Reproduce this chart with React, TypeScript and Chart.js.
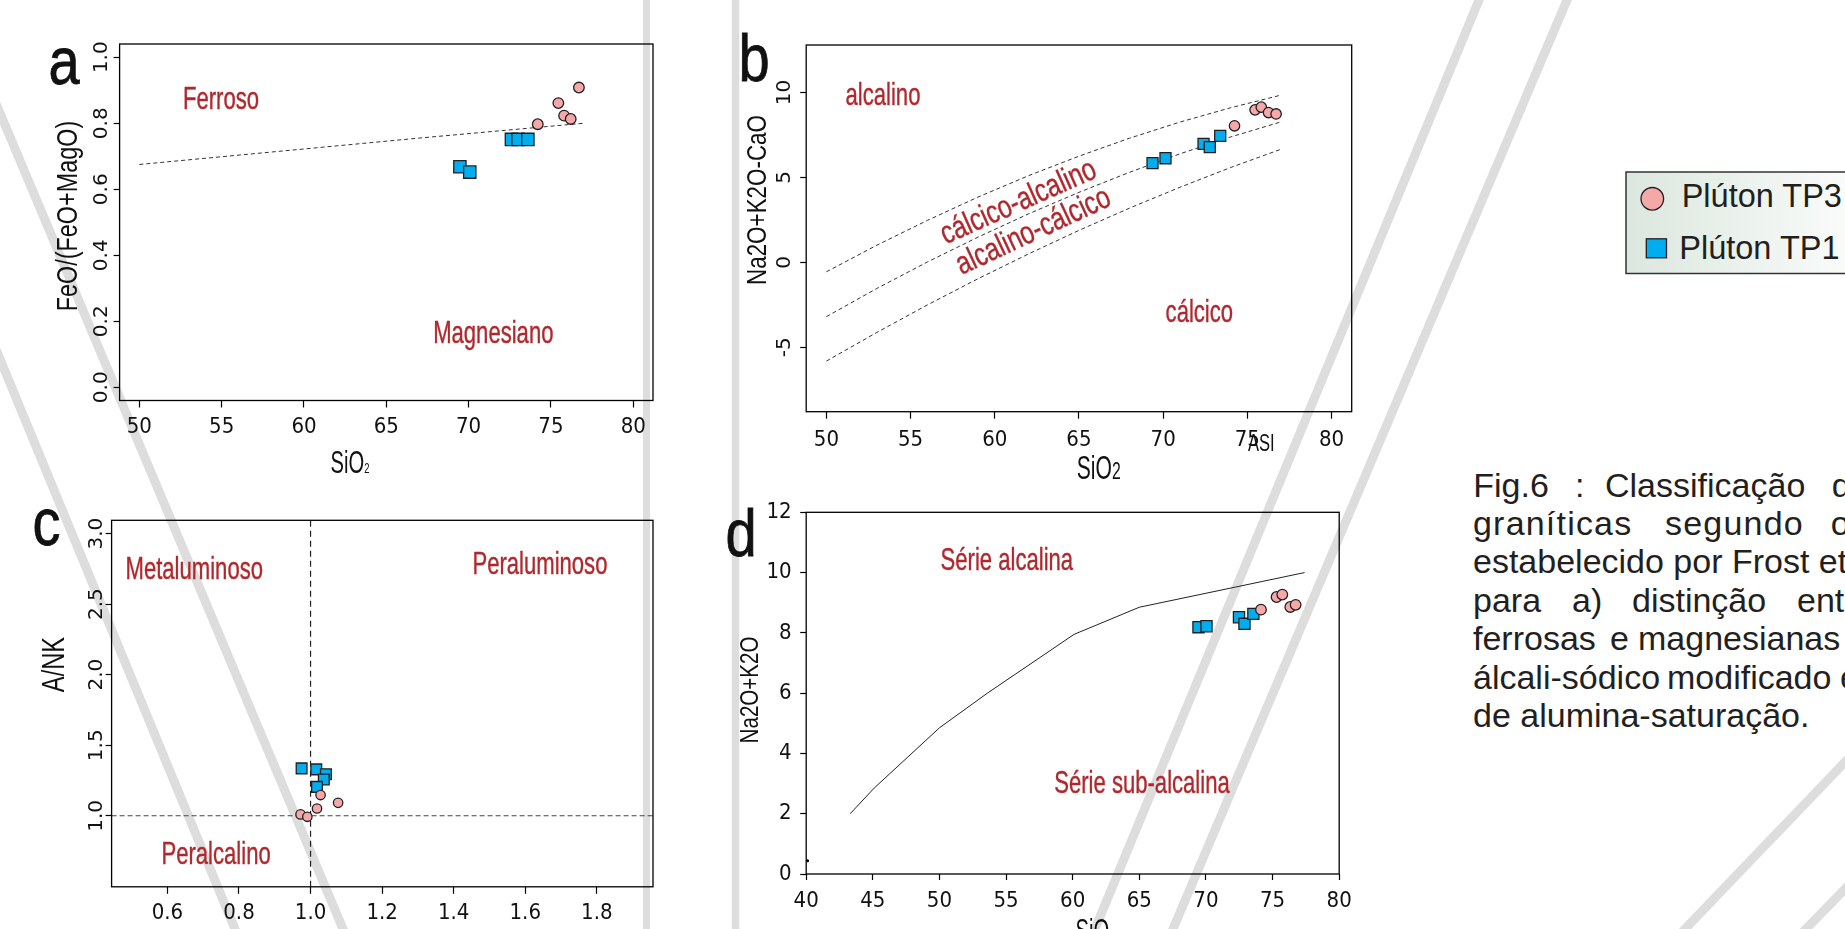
import React, { useEffect, useRef } from 'react';
import { Chart, registerables } from 'chart.js';
Chart.register(...registerables);

const SANS = "'Liberation Sans', Arial, Helvetica, sans-serif";
const NARROW = "'Liberation Sans Narrow', 'Arial Narrow', 'DejaVu Sans Condensed', sans-serif";
const ROTF = "'DejaVu Sans', 'Liberation Sans', sans-serif";
const RED = '#B0282D';
const PINK = '#F5A8A8';
const CYAN = '#00AEEF';
const EDGE = '#231F20';

// ---------- panel a : FeO/(FeO+MgO) vs SiO2 ----------
const A_TP3_SIO2 = [74.2, 75.45, 75.8, 76.2, 76.7];
const A_TP3_FE = [0.797, 0.861, 0.823, 0.813, 0.908];
const A_TP1_SIO2 = [69.47, 70.07, 72.6, 73.0, 73.6];
const A_TP1_FE = [0.668, 0.652, 0.751, 0.751, 0.751];
const A_LINE_SIO2 = [50, 60, 67, 77];
const A_LINE_FE = [0.675, 0.722, 0.755, 0.8];
const A_X_TICKS = [50, 55, 60, 65, 70, 75, 80];
const A_Y_TICKS = [0, 0.2, 0.4, 0.6, 0.8, 1.0];

// ---------- panel b : MALI vs SiO2 ----------
const B_TP3_SIO2 = [74.24, 75.46, 75.83, 76.26, 76.71];
const B_TP3_MALI = [8.04, 8.98, 9.14, 8.82, 8.74];
const B_TP1_SIO2 = [69.37, 70.14, 72.4, 72.77, 73.39];
const B_TP1_MALI = [5.84, 6.13, 6.98, 6.78, 7.45];
const B_LINE_SIO2 = [50, 53, 56, 59, 62, 65, 68, 71, 74, 77];
const B_UPPER = [-0.56, 1.01, 2.47, 3.84, 5.1, 6.25, 7.31, 8.26, 9.1, 9.85];
const B_MIDDLE = [-3.2, -1.54, 0.02, 1.48, 2.85, 4.12, 5.3, 6.39, 7.38, 8.27];
const B_LOWER = [-5.82, -4.13, -2.51, -0.97, 0.49, 1.88, 3.19, 4.42, 5.58, 6.66];
const B_X_TICKS = [50, 55, 60, 65, 70, 75, 80];
const B_Y_TICKS = [-5, 0, 5, 10];

// ---------- panel c : A/NK vs A/CNK ----------
const C_TP3_ACNK = [1.028, 1.077, 1.018, 0.972, 0.991];
const C_TP3_ANK = [1.147, 1.092, 1.052, 1.01, 0.993];
const C_TP1_ACNK = [0.975, 1.016, 1.043, 1.037, 1.018];
const C_TP1_ANK = [1.336, 1.329, 1.295, 1.258, 1.205];
const C_X_TICKS = [0.6, 0.8, 1.0, 1.2, 1.4, 1.6, 1.8];
const C_Y_TICKS = [1.0, 1.5, 2.0, 2.5, 3.0];

// ---------- panel d : TAS ----------
const D_TP3_SIO2 = [74.13, 75.3, 75.73, 76.33, 76.73];
const D_TP3_ALK = [8.77, 9.19, 9.27, 8.86, 8.93];
const D_TP1_SIO2 = [69.44, 70.04, 72.48, 72.89, 73.56];
const D_TP1_ALK = [8.19, 8.22, 8.52, 8.3, 8.63];
const D_LINE_SIO2 = [43.3, 45.1, 50.0, 53.6, 60.1, 65.0, 77.4];
const D_LINE_ALK = [2.0, 2.85, 4.85, 6.0, 7.95, 8.85, 10.0];
const D_DOT_SIO2 = [40.1];
const D_DOT_ALK = [0.44];
const D_X_TICKS = [40, 45, 50, 55, 60, 65, 70, 75, 80];
const D_Y_TICKS = [0, 2, 4, 6, 8, 10, 12];

const LEGEND_LABELS = ['Plúton TP3', 'Plúton TP1'];

const pts = (xs: number[], ys: number[]) => xs.map((x, i) => ({ x, y: ys[i] }));

function drawText(ctx: any, t: any, x: number, y: number) {
  ctx.save();
  ctx.translate(x, y);
  if (t.rot) ctx.rotate((-t.rot * Math.PI) / 180);
  ctx.scale(t.sx ?? 1, t.sy ?? 1);
  const main = `${t.size}px ${t.family ?? SANS}`;
  ctx.font = main;
  ctx.fillStyle = t.color ?? '#111';
  ctx.textBaseline = t.baseline ?? 'alphabetic';
  ctx.textAlign = 'left';
  const w = ctx.measureText(t.t).width;
  let sw = 0;
  if (t.sub) {
    ctx.font = `${t.subSize}px ${t.family ?? SANS}`;
    sw = ctx.measureText(t.sub).width;
    ctx.font = main;
  }
  const total = w + sw;
  const x0 = t.align === 'left' ? 0 : t.align === 'right' ? -total : -total / 2;
  ctx.fillText(t.t, x0, 0);
  if (t.stroke) {
    ctx.strokeStyle = t.color ?? '#111';
    ctx.lineWidth = t.stroke;
    ctx.strokeText(t.t, x0, 0);
  }
  if (t.sub) {
    ctx.font = `${t.subSize}px ${t.family ?? SANS}`;
    ctx.fillText(t.sub, x0 + w, t.subDy ?? 0);
  }
  ctx.restore();
}

function scatterSet(data: any[], style: string, r: number, fill: string, order: number) {
  return {
    data, pointStyle: style, pointRadius: r, backgroundColor: fill, borderColor: EDGE,
    borderWidth: 1.3, showLine: false, order,
  };
}
function lineSet(data: any[], dash: number[], width: number, color: string) {
  return {
    data, showLine: true, pointRadius: 0, borderColor: color, borderWidth: width,
    borderDash: dash, backgroundColor: 'transparent', order: 10, tension: 0,
  };
}

function xAxisR(p: any, ticks: number[], fmt: (v: number) => string, pad: number, tl: number) {
  return {
    type: 'linear', position: 'bottom', min: p.xr[0], max: p.xr[1],
    afterBuildTicks: (s: any) => { s.ticks = ticks.map((v) => ({ value: v })); },
    afterFit: (s: any) => { s.height = p.oy + p.h - p.box.bottom; },
    grid: { drawOnChartArea: false, drawTicks: true, tickLength: tl, tickWidth: 1.2, tickColor: '#000' },
    border: { display: false },
    ticks: {
      autoSkip: false, maxRotation: 0, minRotation: 0, padding: pad, color: '#111',
      font: { family: NARROW, size: 22 }, callback: (v: number) => fmt(v),
    },
  };
}
function yAxisRot(p: any, ticks: number[], fmt: (v: number) => string, pad: number) {
  return {
    type: 'linear', position: 'left', min: p.yr[0], max: p.yr[1],
    afterBuildTicks: (s: any) => { s.ticks = ticks.map((v) => ({ value: v })); },
    afterFit: (s: any) => { s.width = p.box.left - p.ox; },
    grid: { drawOnChartArea: false, drawTicks: true, tickLength: 6, tickWidth: 1.2, tickColor: '#000' },
    border: { display: false },
    ticks: {
      autoSkip: false, minRotation: 90, maxRotation: 90, crossAlign: 'center', padding: pad,
      color: '#111', font: { family: ROTF, size: 20 }, callback: (v: number) => fmt(v),
    },
  };
}

const f1 = (v: number) => v.toFixed(1);
const f0 = (v: number) => String(v);

const labelStyle = { size: 32, sx: 0.69, color: RED, align: 'center', stroke: 0.4 };
const letterStyle = { size: 66, sx: 0.85, align: 'center', color: '#111', stroke: 0.8 };

const PANEL_A: any = {
  ox: 0, oy: 0, w: 700, h: 490,
  box: { left: 119.6, top: 44, right: 653, bottom: 400.5 },
  xr: [48.8, 81.2], yr: [-0.04, 1.04],
};
PANEL_A.datasets = [
  scatterSet(pts(A_TP3_SIO2, A_TP3_FE), 'circle', 5.3, PINK, 0),
  scatterSet(pts(A_TP1_SIO2, A_TP1_FE), 'rect', 8.7, CYAN, 1),
  lineSet(pts(A_LINE_SIO2, A_LINE_FE), [4, 3], 1, '#333'),
];
PANEL_A.scales = {
  x: xAxisR(PANEL_A, A_X_TICKS, f0, 6.6, 7),
  y: yAxisRot(PANEL_A, A_Y_TICKS, f1, -3.9),
};
PANEL_A.texts = [
  { t: 'a', page: [64, 84], ...letterStyle },
  { t: 'FeO/(FeO+MagO)', page: [69, 216], rot: 90, size: 30, sx: 0.78, baseline: 'middle', align: 'center' },
  { t: 'SiO', sub: '2', subSize: 15, page: [350, 473.3], size: 32, sx: 0.63, align: 'center' },
  { t: 'Ferroso', data: [54.96, 0.844], ...labelStyle },
  { t: 'Magnesiano', data: [71.5, 0.133], ...labelStyle },
];

const PANEL_B: any = {
  ox: 700, oy: 0, w: 720, h: 490,
  box: { left: 806.2, top: 45, right: 1351.7, bottom: 411.7 },
  xr: [48.8, 81.2], yr: [-8.8, 12.8],
};
PANEL_B.datasets = [
  scatterSet(pts(B_TP3_SIO2, B_TP3_MALI), 'circle', 5.2, PINK, 0),
  scatterSet(pts(B_TP1_SIO2, B_TP1_MALI), 'rect', 7.8, CYAN, 1),
  lineSet(pts(B_LINE_SIO2, B_UPPER), [4, 3], 1, '#333'),
  lineSet(pts(B_LINE_SIO2, B_MIDDLE), [4, 3], 1, '#333'),
  lineSet(pts(B_LINE_SIO2, B_LOWER), [4, 3], 1, '#333'),
];
PANEL_B.scales = {
  x: xAxisR(PANEL_B, B_X_TICKS, f0, 8.1, 7),
  y: yAxisRot(PANEL_B, B_Y_TICKS, f0, 2.3),
};
PANEL_B.texts = [
  { t: 'b', page: [754, 81], ...letterStyle },
  { t: 'Na2O+K2O-CaO', page: [758, 200], rot: 90, size: 28, sx: 0.8, baseline: 'middle', align: 'center' },
  { t: 'SiO', sub: '2', subSize: 24.7, page: [1076.7, 479], size: 33, sx: 0.64, align: 'left' },
  { t: 'ASI', page: [1248, 451], size: 23, sx: 0.72, align: 'left' },
  { t: 'alcalino', data: [53.36, 9.27], ...labelStyle },
  { t: 'cálcico-alcalino', data: [61.41, 3.52], ...labelStyle, sx: 0.77, rot: 24, baseline: 'middle' },
  { t: 'alcalino-cálcico', data: [62.3, 1.8], ...labelStyle, sx: 0.77, rot: 25, baseline: 'middle' },
  { t: 'cálcico', data: [72.15, -3.5], ...labelStyle },
];

const PANEL_C: any = {
  ox: 0, oy: 470, w: 700, h: 459,
  box: { left: 111.6, top: 520.3, right: 653, bottom: 886.8 },
  xr: [0.444, 1.957], yr: [0.497, 3.094],
};
PANEL_C.datasets = [
  scatterSet(pts(C_TP3_ACNK, C_TP3_ANK), 'circle', 4.7, PINK, 0),
  scatterSet(pts(C_TP1_ACNK, C_TP1_ANK), 'rect', 7.6, CYAN, 1),
  lineSet([{ x: 1.0, y: 0.497 }, { x: 1.0, y: 3.094 }], [6, 4], 1.2, '#222'),
  lineSet([{ x: 0.444, y: 1.0 }, { x: 1.957, y: 1.0 }], [5, 3], 1.1, '#444'),
];
PANEL_C.scales = {
  x: xAxisR(PANEL_C, C_X_TICKS, f1, 6.3, 7),
  y: yAxisRot(PANEL_C, C_Y_TICKS, f1, -6.9),
};
PANEL_C.texts = [
  { t: 'c', page: [46.5, 545], ...letterStyle },
  { t: 'A/NK', page: [55, 664.5], rot: 90, size: 32, sx: 0.74, baseline: 'middle', align: 'center' },
  { t: 'Metaluminoso', data: [0.675, 2.681], ...labelStyle },
  { t: 'Peraluminoso', data: [1.641, 2.713], ...labelStyle },
  { t: 'Peralcalino', data: [0.736, 0.657], ...labelStyle },
];

const PANEL_D: any = {
  ox: 700, oy: 470, w: 720, h: 459,
  box: { left: 806.2, top: 512.3, right: 1339.2, bottom: 874 },
  xr: [40, 80], yr: [0, 12],
};
PANEL_D.datasets = [
  scatterSet(pts(D_TP3_SIO2, D_TP3_ALK), 'circle', 5.3, PINK, 0),
  scatterSet(pts(D_TP1_SIO2, D_TP1_ALK), 'rect', 7.9, CYAN, 1),
  { data: pts(D_DOT_SIO2, D_DOT_ALK), pointRadius: 1.6, backgroundColor: '#000', borderColor: '#000', borderWidth: 0, showLine: false, order: 2 },
  lineSet(pts(D_LINE_SIO2, D_LINE_ALK), [], 1, '#222'),
];
PANEL_D.scales = {
  x: xAxisR(PANEL_D, D_X_TICKS, f0, 7.6, 6),
  y: {
    type: 'linear', position: 'left', min: 0, max: 12,
    afterBuildTicks: (s: any) => { s.ticks = D_Y_TICKS.map((v) => ({ value: v })); },
    afterFit: (s: any) => { s.width = PANEL_D.box.left - PANEL_D.ox; },
    grid: { drawOnChartArea: false, drawTicks: true, tickLength: 6, tickWidth: 1.2, tickColor: '#000' },
    border: { display: false },
    ticks: { autoSkip: false, padding: 8.6, color: '#111', font: { family: NARROW, size: 22 }, callback: (v: number) => f0(v) },
  },
};
PANEL_D.texts = [
  { t: 'd', page: [741, 556], ...letterStyle },
  { t: 'Na2O+K2O', page: [751, 690], rot: 90, size: 26, sx: 0.79, baseline: 'middle', align: 'center' },
  { t: 'SiO', sub: '2', subSize: 15, page: [1095, 941], size: 32, sx: 0.63, align: 'center' },
  { t: 'Série alcalina', data: [55.06, 10.09], ...labelStyle },
  { t: 'Série sub-alcalina', data: [65.2, 2.7], ...labelStyle },
];

function Panel({ p }: { p: any }) {
  const ref = useRef<HTMLCanvasElement>(null);
  useEffect(() => {
    const chart = new Chart(ref.current as HTMLCanvasElement, {
      type: 'scatter',
      data: { datasets: p.datasets },
      options: {
        responsive: false, animation: false, events: [],
        layout: { padding: { left: 0, top: p.box.top - p.oy, right: p.ox + p.w - p.box.right, bottom: 0 } },
        plugins: { legend: { display: false }, tooltip: { enabled: false } },
        scales: p.scales,
      },
      plugins: [{
        id: 'decor',
        afterDraw(chart: any) {
          const { ctx, chartArea: a, scales } = chart;
          ctx.save();
          ctx.setLineDash([]);
          ctx.strokeStyle = '#000';
          ctx.lineWidth = 1.3;
          ctx.strokeRect(a.left, a.top, a.right - a.left, a.bottom - a.top);
          for (const t of p.texts) {
            let x: number; let y: number;
            if (t.data) { x = scales.x.getPixelForValue(t.data[0]); y = scales.y.getPixelForValue(t.data[1]); }
            else { x = t.page[0] - p.ox; y = t.page[1] - p.oy; }
            drawText(ctx, t, x, y);
          }
          ctx.restore();
        },
      }],
    } as any);
    return () => chart.destroy();
  }, []);
  return (
    <canvas ref={ref} width={p.w} height={p.h}
      style={{ position: 'absolute', left: p.ox, top: p.oy, width: p.w, height: p.h }} />
  );
}

const BG_LINES = [
  [0, 113, 343, 929, 9], [0, 359, 235, 929, 9],
  [1479, 0, 1095, 929, 9], [1567, 0, 1173, 929, 9],
  [1845, 762, 1685, 929, 9], [1845, 889, 1806, 929, 9],
  [646.5, 0, 646.5, 929, 7], [735.5, 0, 735.5, 929, 7.5],
];

const CAPTION: [string, number][][] = [
  [['Fig.6', 1473.3], [':', 1575], ['Classificação', 1605], ['das', 1831.7]],
  [['graníticas', 1473], ['segundo', 1665], ['o', 1830.7]],
  [['estabelecido por Frost et al. (2001)', 1473]],
  [['para', 1473], ['a)', 1572], ['distinção', 1632], ['entre', 1797]],
  [['ferrosas', 1473], ['e', 1610], ['magnesianas', 1638], [', b)', 1848]],
  [['álcali-sódico', 1473], ['modificado', 1667], ['e c)', 1840]],
  [['de alumina-saturação.', 1473]],
];

function ext(l: number[]) {
  const [x1, y1, x2, y2] = l;
  const dx = x2 - x1, dy = y2 - y1, L = Math.hypot(dx, dy);
  const e = 40;
  return [x1 - (dx / L) * e, y1 - (dy / L) * e, x2 + (dx / L) * e, y2 + (dy / L) * e];
}

export default function App() {
  return (
    <div style={{ position: 'fixed', left: 0, top: 0, width: 1845, height: 929, overflow: 'hidden', background: '#fff' }}>
      <svg width={1845} height={929} style={{ position: 'absolute', left: 0, top: 0 }}>
        <defs>
          <linearGradient id="lg" x1="0" y1="0" x2="1" y2="0">
            <stop offset="0" stopColor="#dbe7de" />
            <stop offset="1" stopColor="#ffffff" />
          </linearGradient>
        </defs>
        {BG_LINES.map((l, i) => {
          const [a, b, c, d] = ext(l);
          return <line key={i} x1={a} y1={b} x2={c} y2={d} stroke="#DDDDDD" strokeWidth={l[4]} />;
        })}
        <rect x={1626} y={172} width={260} height={101.5} fill="url(#lg)" stroke="#333" strokeWidth={1.5} />
        <circle cx={1652.3} cy={198.8} r={11.3} fill={PINK} stroke={EDGE} strokeWidth={1.3} />
        <rect x={1646.3} y={238.8} width={20.2} height={19} fill={CYAN} stroke={EDGE} strokeWidth={1.3} />
        <text x={1681.7} y={207.3} fontSize={32.5} fill="#231F20" style={{ fontFamily: SANS }}>{LEGEND_LABELS[0]}</text>
        <text x={1679.3} y={258.9} fontSize={32.5} fill="#231F20" style={{ fontFamily: SANS }}>{LEGEND_LABELS[1]}</text>
        {CAPTION.map((line, li) => line.map(([w, x], wi) => (
          <text key={`${li}-${wi}`} x={x} y={496.5 + li * 38.45} fontSize={34} fill="#231F20"
            style={{ fontFamily: SANS, letterSpacing: li === 1 ? '1.2px' : '0px', whiteSpace: 'pre' }}>{w}</text>
        )))}
      </svg>
      <Panel p={PANEL_A} />
      <Panel p={PANEL_B} />
      <Panel p={PANEL_C} />
      <Panel p={PANEL_D} />
    </div>
  );
}
